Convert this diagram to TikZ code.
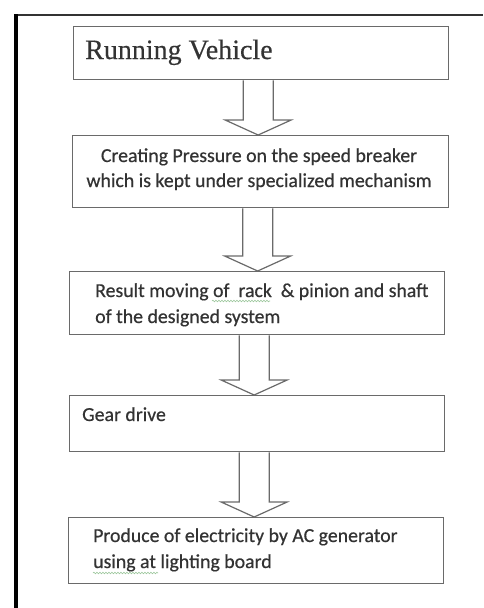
\documentclass[tikz,border=0pt]{standalone}
\usepackage{fontspec}
\setmainfont{Carlito}
\newfontfamily\bodyfont{Carlito}[FakeBold=0.5]
\newfontfamily\serifrv{Liberation Serif}[FakeBold=0.4]
\usetikzlibrary{calc,decorations.pathmorphing}
\definecolor{boxgray}{HTML}{6A6A6A}
\definecolor{txtgray}{HTML}{333333}
\definecolor{squig}{HTML}{9CC79C}
\tikzset{
  stepbox/.style={draw=boxgray, line width=1.3pt, inner sep=0pt, anchor=north west},
  bodytext/.style={text=txtgray, inner sep=0pt, font=\bodyfont\fontsize{19.8}{22}\selectfont},
  blockarrow/.style={draw=boxgray, line width=1.2pt, line join=miter},
  spellmark/.style={draw=squig, line width=0.6pt, decorate,
    decoration={snake, amplitude=0.8pt, segment length=3pt}}
}
\newcommand\flowarrow[2]{%
  \draw[blockarrow] let \p1=(#1.south), \p2=(#2.north) in
    (\x1-18pt,\y1) -- (\x1-18pt,\y2+15pt) -- (\x1-36pt,\y2+15pt) -- (\x1-3pt,\y2)
    -- (\x1+30pt,\y2+15pt) -- (\x1+12pt,\y2+15pt) -- (\x1+12pt,\y1);}
\begin{document}
\begin{tikzpicture}[x=1pt,y=-1pt]
\useasboundingbox (0,0) rectangle (483,608);
\fill[white] (0,0) rectangle (483,608);
% outer frame
\draw[line width=2.2pt, color=black!80] (15,15) -- (483,15);
\draw[line width=4pt, color=black] (16,14) -- (16,608);
% boxes
\node[stepbox, minimum width=375pt, minimum height=53pt] (b1) at (73,26) {};
\node[stepbox, minimum width=376pt, minimum height=72pt] (b2) at (72,135) {};
\node[stepbox, minimum width=375pt, minimum height=63pt] (b3) at (69,271) {};
\node[stepbox, minimum width=375pt, minimum height=56pt] (b4) at (69,395) {};
\node[stepbox, minimum width=375pt, minimum height=66pt] (b5) at (68,517) {};
% texts
\node[text=txtgray, inner sep=0pt, anchor=base west, font=\serifrv\fontsize{28}{30}\selectfont] (t1) at (85,59) {Running Vehicle};
\node[bodytext, anchor=base] (t2a) at (259,162) {Creating Pressure on the speed breaker};
\node[bodytext, anchor=base] (t2b) at (259,187) {which is kept under specialized mechanism};
\node[bodytext, anchor=base west] (t3a) at (95,297) {Result moving of\ \ rack\ \ \& pinion and shaft};
\node[bodytext, anchor=base west] (t3b) at (95,323) {of the\ designed system};
\node[bodytext, anchor=base west] (t4) at (82,421) {Gear drive};
\node[bodytext, anchor=base west] (t5a) at (93,542) {Produce of electricity by AC generator};
\node[bodytext, anchor=base west] (t5b) at (93,568) {using\ at lighting board};
% spell-check marks
\draw[spellmark] (212,301) -- (270,301);
\draw[spellmark] (93,573) -- (158,573);
% arrows
\flowarrow{b1}{b2}
\flowarrow{b2}{b3}
\flowarrow{b3}{b4}
\flowarrow{b4}{b5}
\end{tikzpicture}
\end{document}
